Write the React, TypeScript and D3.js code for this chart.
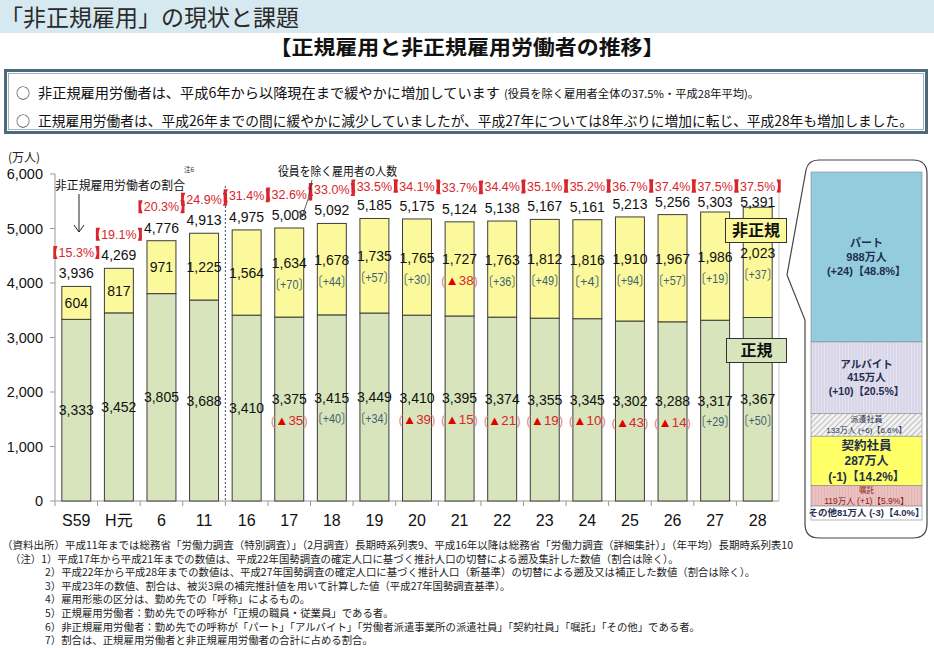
import React from "react";
import * as d3 from "d3";

const categories = ["S59", "H元", "6", "11", "16", "17", "18", "19", "20", "21", "22", "23", "24", "25", "26", "27", "28"];
const regular = [3333, 3452, 3805, 3688, 3410, 3375, 3415, 3449, 3410, 3395, 3374, 3355, 3345, 3302, 3288, 3317, 3367];
const nonRegular = [604, 817, 971, 1225, 1564, 1634, 1678, 1735, 1765, 1727, 1763, 1812, 1816, 1910, 1967, 1986, 2023];
const totals = [3936, 4269, 4776, 4913, 4975, 5008, 5092, 5185, 5175, 5124, 5138, 5167, 5161, 5213, 5256, 5303, 5391];
const ratios = [15.3, 19.1, 20.3, 24.9, 31.4, 32.6, 33.0, 33.5, 34.1, 33.7, 34.4, 35.1, 35.2, 36.7, 37.4, 37.5, 37.5];
const regularChange: (number | null)[] = [null, null, null, null, null, -35, 40, 34, -39, -15, -21, -19, -10, -43, -14, 29, 50];
const nonRegularChange: (number | null)[] = [null, null, null, null, null, 70, 44, 57, 30, -38, 36, 49, 4, 94, 57, 19, 37];
const yTicks = [0, 1000, 2000, 3000, 4000, 5000, 6000];

const breakdownNames = ["パート", "アルバイト", "派遣社員", "契約社員", "嘱託", "その他"];
const breakdownValues = [988, 415, 133, 287, 119, 81];
const breakdownChanges = [24, 10, 6, -1, 1, -3];
const breakdownShares = [48.8, 20.5, 6.6, 14.2, 5.9, 4.0];

const pageTitle = "「非正規雇用」の現状と課題";
const chartTitle = "【正規雇用と非正規雇用労働者の推移】";
const bullet1 = "非正規雇用労働者は、平成6年から以降現在まで緩やかに増加しています";
const bullet1Small = "(役員を除く雇用者全体の37.5%・平成28年平均)。";
const bullet2 = "正規雇用労働者は、平成26年までの間に緩やかに減少していましたが、平成27年については8年ぶりに増加に転じ、平成28年も増加しました。";
const notes = [
  "（資料出所）平成11年までは総務省「労働力調査（特別調査）」（2月調査）長期時系列表9、平成16年以降は総務省「労働力調査（詳細集計）」（年平均）長期時系列表10",
  "（注）1）平成17年から平成21年までの数値は、平成22年国勢調査の確定人口に基づく推計人口の切替による遡及集計した数値（割合は除く）。",
  "2）平成22年から平成28年までの数値は、平成27年国勢調査の確定人口に基づく推計人口（新基準）の切替による遡及又は補正した数値（割合は除く）。",
  "3）平成23年の数値、割合は、被災3県の補完推計値を用いて計算した値（平成27年国勢調査基準）。",
  "4）雇用形態の区分は、勤め先での「呼称」によるもの。",
  "5）正規雇用労働者：勤め先での呼称が「正規の職員・従業員」である者。",
  "6）非正規雇用労働者：勤め先での呼称が「パート」「アルバイト」「労働者派遣事業所の派遣社員」「契約社員」「嘱託」「その他」である者。",
  "7）割合は、正規雇用労働者と非正規雇用労働者の合計に占める割合。",
];

const JP = "'Noto Sans CJK JP', 'Noto Sans', sans-serif";
const NUM = "'Liberation Sans', Arial, 'Noto Sans CJK JP', sans-serif";
const RED = "#d8262c";
const GREEN = "#d7e4bc";
const YELLOW = "#fbf99c";

function Bracket({ x, cy, h, left }: { x: number; cy: number; h: number; left: boolean }) {
  const t = cy - h / 2, b = cy + h / 2, w = 4.2;
  const d = left
    ? `M${x + w},${t} L${x},${t} L${x},${b} L${x + w},${b} Q${x + 1.2},${cy} ${x + w},${t} Z`
    : `M${x - w},${t} L${x},${t} L${x},${b} L${x - w},${b} Q${x - 1.2},${cy} ${x - w},${t} Z`;
  return <path d={d} fill={RED} />;
}

export default function App() {
  const W = 934, H = 648;
  const x = d3.scaleBand<string>().domain(categories).range([55, 779]).paddingInner(0.32).paddingOuter(0.16);
  const y = d3.scaleLinear().domain([0, 6000]).range([501, 174]);
  const fmt = d3.format(",");
  const bw = x.bandwidth();

  const stackSum = d3.sum(breakdownValues);
  const py = d3.scaleLinear().domain([0, stackSum]).range([172, 520]);
  const cum = d3.cumsum(breakdownValues);
  const px0 = 811, px1 = 922;

  const noteX = [2, 10, 45, 45, 45, 45, 45, 45];

  const changeLabel = (c: number | null, cx: number, cy: number, key: string) => {
    if (c === null) return null;
    if (c >= 0) {
      return (
        <text key={key} x={cx} y={cy} textAnchor="middle" fontFamily={NUM} fontSize={13.5} fill="#3f5f6f" textLength={40} lengthAdjust="spacingAndGlyphs">
          {`〔+${c}〕`}
        </text>
      );
    }
    return (
      <text key={key} x={cx} y={cy} textAnchor="middle" fontFamily={NUM} fontSize={13} fill={RED} textLength={37} lengthAdjust="spacingAndGlyphs">
        <tspan fill="#e08a8a">(</tspan>
        <tspan fill="#e00000">▲</tspan>
        <tspan>{Math.abs(c)}</tspan>
        <tspan fill="#e08a8a">)</tspan>
      </text>
    );
  };

  const bandEdges = categories.map((c) => (x(c) as number) - (x.step() * 0.32) / 2);
  bandEdges[0] = 55;
  const dashX = (x("16") as number) - (x.step() * 0.32) / 2;

  const segLines = breakdownNames.map((n, i) => {
    const v = `${breakdownValues[i]}万人`;
    const ch = `(${breakdownChanges[i] >= 0 ? "+" : ""}${breakdownChanges[i]})【${breakdownShares[i].toFixed(1)}%】`;
    if (i <= 1) return [n, v, ch];
    if (i === 3) return [n, v, ch];
    if (i === 5) return [`${n}${v} ${ch}`];
    return [n, `${v} ${ch}`];
  });
  const segStyle = [
    { fs: [11, 11, 11], gap: 14, fill: "#1f2f4f", bold: true },
    { fs: [10.5, 10.5, 10.5], gap: 13.5, fill: "#1f2f4f", bold: true },
    { fs: [8, 8], gap: 10.5, fill: "#1f2f4f", bold: false },
    { fs: [12.5, 12, 12], gap: 15.5, fill: "#1f2f4f", bold: true },
    { fs: [7.5, 8.5], gap: 11, fill: "#8a1a1a", bold: false },
    { fs: [9.5], gap: 0, fill: "#1f2f4f", bold: true },
  ];
  const segFill = ["#93cddd", "url(#lav)", "url(#hatch)", "#ffff66", "url(#pink)", "#ffffff"];
  const PANEL_FONT = "'Liberation Sans', 'Noto Sans CJK JP', sans-serif";

  return (
    <svg width={W} height={H} viewBox={`0 0 ${W} ${H}`} style={{ display: "block", position: "absolute", left: 0, top: 0, background: "#fff" }}>
      <defs>
        <pattern id="lav" width="3" height="3" patternUnits="userSpaceOnUse">
          <rect width="3" height="3" fill="#e3e0ef" />
          <line x1="1" y1="0" x2="1" y2="3" stroke="#d2cde4" strokeWidth="1" />
        </pattern>
        <pattern id="hatch" width="4" height="4" patternUnits="userSpaceOnUse" patternTransform="rotate(45)">
          <rect width="4" height="4" fill="#f2f2f2" />
          <line x1="0" y1="0" x2="0" y2="4" stroke="#9a9a9a" strokeWidth="1.2" />
        </pattern>
        <pattern id="pink" width="3" height="3" patternUnits="userSpaceOnUse">
          <rect width="3" height="3" fill="#e6b5b4" />
          <line x1="1" y1="0" x2="1" y2="3" stroke="#efcfce" strokeWidth="1" />
        </pattern>
      </defs>

      {/* header */}
      <rect x={0} y={0} width={W} height={33} fill="#d6e9f0" />
      <text x={0} y={26} fontFamily={JP} fontSize={23} fill="#2a2a2a">{pageTitle}</text>
      <text x={467} y={55} textAnchor="middle" fontFamily={JP} fontSize={20} fontWeight={700} fill="#111" textLength={395} lengthAdjust="spacingAndGlyphs">{chartTitle}</text>

      {/* summary box */}
      <rect x={5.5} y={70.5} width={921} height={62} fill="#fff" stroke="#4d6a7a" strokeWidth={3} />
      <rect x={8.5} y={73.5} width={915} height={56} fill="none" stroke="#9fb6c2" strokeWidth={1} />
      <text x={16} y={98} fontFamily={JP} fontSize={14} fill="#111">○</text>
      <text x={38} y={98} fontFamily={JP} fontSize={14} fill="#111" textLength={462} lengthAdjust="spacingAndGlyphs">{bullet1}</text>
      <text x={504} y={98} fontFamily={JP} fontSize={11} fill="#111" textLength={255} lengthAdjust="spacingAndGlyphs">{bullet1Small}</text>
      <text x={16} y={126} fontFamily={JP} fontSize={14} fill="#111">○</text>
      <text x={38} y={126} fontFamily={JP} fontSize={14} fill="#111" textLength={875} lengthAdjust="spacingAndGlyphs">{bullet2}</text>

      {/* axes */}
      <text x={8} y={162} fontFamily={JP} fontSize={12} fill="#222">(万人)</text>
      {yTicks.map((t) => (
        <g key={t}>
          <line x1={50} x2={55} y1={y(t)} y2={y(t)} stroke="#999" />
          <text x={43} y={y(t) + 5} textAnchor="end" fontFamily={NUM} fontSize={14.5} fill="#111">{fmt(t)}</text>
        </g>
      ))}
      <line x1={55} x2={55} y1={y(6000)} y2={y(0)} stroke="#999" />
      <line x1={55} x2={779} y1={y(0)} y2={y(0)} stroke="#999" />
      <line x1={779} x2={779} y1={185} y2={y(0)} stroke="#c8c8c8" />
      {bandEdges.map((bx, i) => (
        <line key={i} x1={bx} x2={bx} y1={y(0)} y2={y(0) + 5} stroke="#999" />
      ))}
      <line x1={dashX} x2={dashX} y1={186} y2={y(0)} stroke="#3a4a6a" strokeWidth={1} strokeDasharray="2,2" />

      {/* bars */}
      {categories.map((c, i) => {
        const bx = x(c) as number;
        const cx = bx + bw / 2;
        const yReg = y(regular[i]);
        const yTop = y(regular[i] + nonRegular[i]);
        const yTot = y(totals[i]);
        const totalY = Math.max(yTot - 13, 202);
        const ratioY = Math.max(totalY - 21, 186);
        const midNon = (yTop + yReg) / 2;
        const midReg = (yReg + y(0)) / 2;
        const hasNC = nonRegularChange[i] !== null;
        const hasRC = regularChange[i] !== null;
        return (
          <g key={c}>
            <rect x={bx} y={yReg} width={bw} height={y(0) - yReg} fill={GREEN} stroke="#3d3d3d" strokeWidth={1} />
            <rect x={bx} y={yTop} width={bw} height={yReg - yTop} fill={YELLOW} stroke="#3d3d3d" strokeWidth={1} />
            <text x={cx} y={totalY + 5} textAnchor="middle" fontFamily={NUM} fontSize={14} fill="#111">{fmt(totals[i])}</text>
            <text x={cx} y={ratioY + 4.5} textAnchor="middle" fontFamily={NUM} fontSize={12.5} fill={RED}>{`${ratios[i].toFixed(1)}%`}</text>
            <Bracket x={cx - 23} cy={ratioY} h={13} left={true} />
            <Bracket x={cx + 23} cy={ratioY} h={13} left={false} />
            <text x={cx} y={hasNC ? midNon - 4.5 : midNon + 5} textAnchor="middle" fontFamily={NUM} fontSize={14} fill="#111">{fmt(nonRegular[i])}</text>
            {changeLabel(nonRegularChange[i], cx, midNon + 16.5, "nc")}
            <text x={cx} y={hasRC ? midReg - 5 : midReg + 5} textAnchor="middle" fontFamily={NUM} fontSize={14} fill="#111">{fmt(regular[i])}</text>
            {changeLabel(regularChange[i], cx, midReg + 15.5, "rc")}
            <text x={cx} y={526} textAnchor="middle" fontFamily={NUM} fontSize={16} fill="#111">{c}</text>
          </g>
        );
      })}

      {/* annotations */}
      <text x={55} y={190} fontFamily={JP} fontSize={12} fill="#111" textLength={130} lengthAdjust="spacingAndGlyphs">非正規雇用労働者の割合</text>
      <text x={184} y={172} fontFamily={JP} fontSize={6.5} fill="#333">注6</text>
      <line x1={79} x2={79} y1={194} y2={232} stroke="#222" strokeWidth={1} />
      <path d="M74,225 L79,232 L84,225" fill="none" stroke="#222" strokeWidth={1} />
      <text x={278} y={176} fontFamily={JP} fontSize={12} fill="#111" textLength={119} lengthAdjust="spacingAndGlyphs">役員を除く雇用者の人数</text>
      <path d="M312,180 Q309,200 302,217" fill="none" stroke="#333" strokeWidth={0.8} />
      <path d="M299,211 L302,217 L306,212" fill="none" stroke="#333" strokeWidth={0.8} />

      {/* labels in chart */}
      <rect x={725.5} y={218.5} width={61} height={24} fill={YELLOW} stroke="#333" strokeWidth={1} />
      <text x={756} y={236} textAnchor="middle" fontFamily={JP} fontSize={16} fontWeight={700} fill="#111">非正規</text>
      <rect x={726.5} y={338.5} width={60} height={24} fill={GREEN} stroke="#333" strokeWidth={1} />
      <text x={756.5} y={356} textAnchor="middle" fontFamily={JP} fontSize={16} fontWeight={700} fill="#111">正規</text>

      {/* breakdown callout */}
      <path
        d="M819,160 L913,160 Q927,160 927,174 L927,524 Q927,538 913,538 L819,538 Q805,538 805,524 L805,320 L787,275 L806,170 Q808,160 819,160 Z"
        fill="none"
        stroke="#444"
        strokeWidth={1.2}
      />
      {breakdownNames.map((n, i) => {
        const y0 = py(i === 0 ? 0 : cum[i - 1]);
        const y1 = py(cum[i]);
        return (
          <rect key={n} x={px0} y={y0} width={px1 - px0} height={y1 - y0} fill={segFill[i]} stroke="#888" strokeWidth={0.6} />
        );
      })}
      {breakdownNames.map((n, i) => {
        const y0 = py(i === 0 ? 0 : cum[i - 1]);
        const y1 = py(cum[i]);
        const mid = (y0 + y1) / 2;
        const st = segStyle[i];
        const lines = segLines[i];
        const startY = mid - ((lines.length - 1) * st.gap) / 2;
        const cx = (px0 + px1) / 2;
        return (
          <g key={"t" + n}>
            {lines.map((l, j) => (
              <text key={j} x={cx} y={startY + j * st.gap + st.fs[j] * 0.36} textAnchor="middle" fontFamily={PANEL_FONT} fontWeight={st.bold ? 700 : 400} fill={st.fill} fontSize={st.fs[j]}>{l}</text>
            ))}
          </g>
        );
      })}

      {/* notes */}
      {notes.map((n, i) => (
        <text key={i} x={noteX[i]} y={549 + i * 13.6} fontFamily={JP} fontSize={10.4} fill="#222" textLength={i === 0 ? 791 : undefined} lengthAdjust="spacingAndGlyphs">{n}</text>
      ))}
    </svg>
  );
}
